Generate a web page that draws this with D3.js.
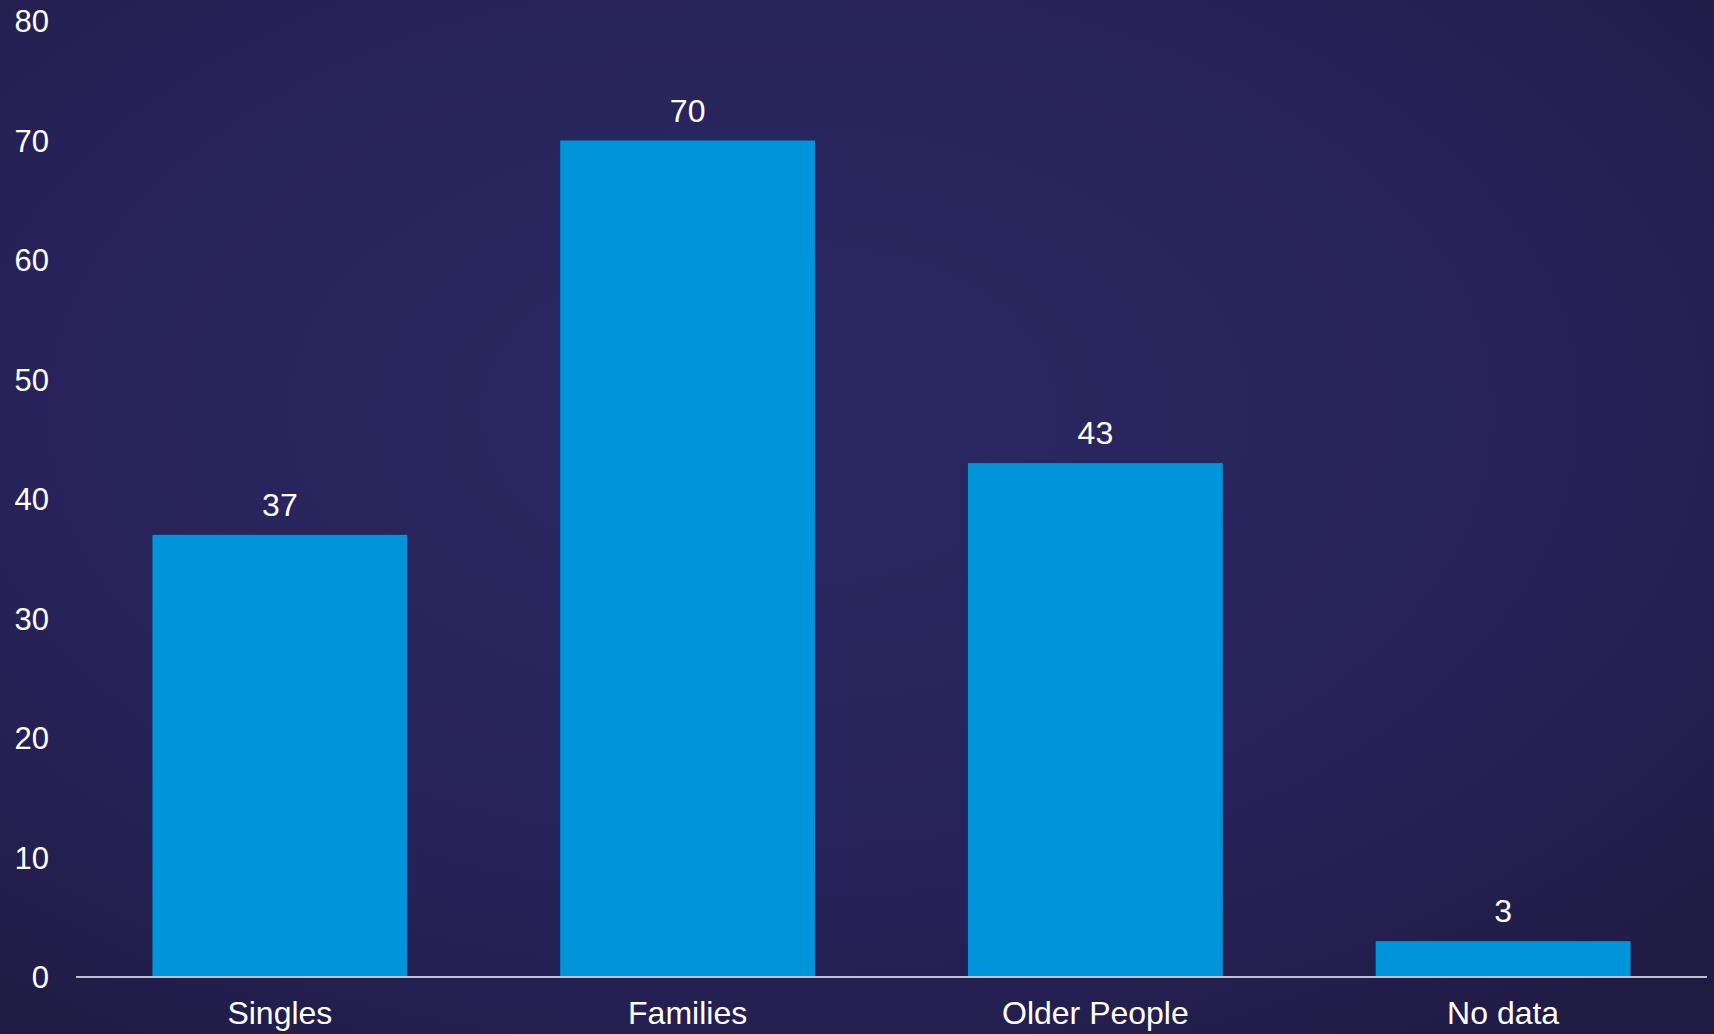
<!DOCTYPE html>
<html>
<head>
<meta charset="utf-8">
<script src="https://cdn.jsdelivr.net/npm/d3@7"></script>
<style>
  html, body { margin: 0; padding: 0; overflow: hidden; background: #262256; }
  text { font-family: "Liberation Sans", Arial, sans-serif; fill: #ffffff; }
</style>
</head>
<body>
<div id="chart"></div>
<script>
var categories = ["Singles", "Families", "Older People", "No data"];
var values = [37, 70, 43, 3];
var yTicks = [0, 10, 20, 30, 40, 50, 60, 70, 80];

var width = 1714, height = 1034;
var x0 = 76, x1 = 1707, yBase = 977, yTop = 21;

var svg = d3.select("#chart").append("svg")
    .attr("width", width)
    .attr("height", height);

var defs = svg.append("defs");
var grad = defs.append("radialGradient")
    .attr("id", "bg")
    .attr("cx", "45%").attr("cy", "40%").attr("r", "75%");
grad.append("stop").attr("offset", "0%").attr("stop-color", "#2b2862");
grad.append("stop").attr("offset", "60%").attr("stop-color", "#27235a");
grad.append("stop").attr("offset", "100%").attr("stop-color", "#201b44");

svg.append("rect")
    .attr("width", width)
    .attr("height", height)
    .attr("fill", "url(#bg)");

var xScale = d3.scaleBand()
    .domain(categories)
    .range([x0, x1])
    .paddingInner(0.375)
    .paddingOuter(0.1875);

var yScale = d3.scaleLinear().domain([0, 80]).range([yBase, yTop]);

// y tick labels
svg.append("g").selectAll("text")
    .data(yTicks)
    .enter()
    .append("text")
    .attr("x", 49)
    .attr("y", d => yScale(d))
    .attr("dy", "0.36em")
    .attr("text-anchor", "end")
    .style("font-size", "31px")
    .text(d => d);

// bars
svg.append("g").selectAll("rect")
    .data(values)
    .enter()
    .append("rect")
    .attr("x", (d, i) => xScale(categories[i]))
    .attr("y", d => yScale(d))
    .attr("width", xScale.bandwidth())
    .attr("height", d => yBase - yScale(d))
    .attr("fill", "#0095da");

// value labels
svg.append("g").selectAll("text")
    .data(values)
    .enter()
    .append("text")
    .attr("x", (d, i) => xScale(categories[i]) + xScale.bandwidth() / 2)
    .attr("y", d => yScale(d) - 19)
    .attr("text-anchor", "middle")
    .style("font-size", "32px")
    .text(d => d);

// baseline
svg.append("line")
    .attr("x1", x0).attr("x2", x1)
    .attr("y1", yBase).attr("y2", yBase)
    .attr("stroke", "#c0c0c8")
    .attr("stroke-width", 2);

// category labels
svg.append("g").selectAll("text")
    .data(categories)
    .enter()
    .append("text")
    .attr("x", d => xScale(d) + xScale.bandwidth() / 2)
    .attr("y", 1024)
    .attr("text-anchor", "middle")
    .style("font-size", "32px")
    .text(d => d);
</script>
</body>
</html>
